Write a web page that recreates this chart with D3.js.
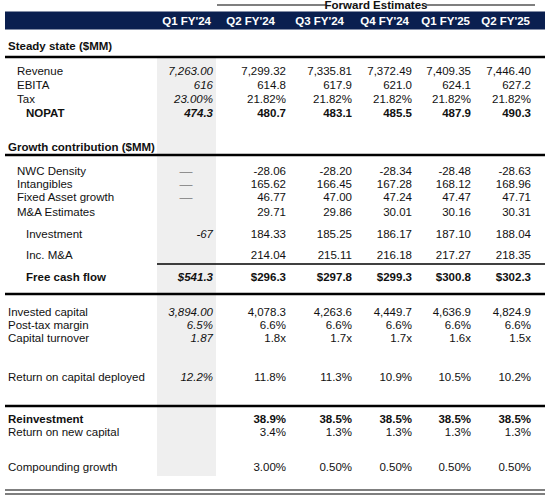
<!DOCTYPE html>
<html><head><meta charset="utf-8">
<script src="https://cdn.jsdelivr.net/npm/d3@7"></script>
<style>body{margin:0;background:#fff}svg{display:block;font-family:"Liberation Sans",Arial,sans-serif}</style>
</head><body><svg id="c" width="547" height="495"></svg>
<script>
// ---- data ----
const periods = ["Q1 FY'24","Q2 FY'24","Q3 FY'24","Q4 FY'24","Q1 FY'25","Q2 FY'25"];
const revenue = [7263.00, 7299.32, 7335.81, 7372.49, 7409.35, 7446.40];
const ebita = [616, 614.8, 617.9, 621.0, 624.1, 627.2];
const tax = [23.00, 21.82, 21.82, 21.82, 21.82, 21.82];
const nopat = [474.3, 480.7, 483.1, 485.5, 487.9, 490.3];
const nwcDensity = ["—", -28.06, -28.20, -28.34, -28.48, -28.63];
const intangibles = ["—", 165.62, 166.45, 167.28, 168.12, 168.96];
const fixedAsset = ["—", 46.77, 47.00, 47.24, 47.47, 47.71];
const maEstimates = [null, 29.71, 29.86, 30.01, 30.16, 30.31];
const investment = [-67, 184.33, 185.25, 186.17, 187.10, 188.04];
const incMA = [null, 214.04, 215.11, 216.18, 217.27, 218.35];
const fcf = [541.3, 296.3, 297.8, 299.3, 300.8, 302.3];
const investedCapital = [3894.00, 4078.3, 4263.6, 4449.7, 4636.9, 4824.9];
const postTaxMargin = [6.5, 6.6, 6.6, 6.6, 6.6, 6.6];
const capitalTurnover = [1.87, 1.8, 1.7, 1.7, 1.6, 1.5];
const rocd = [12.2, 11.8, 11.3, 10.9, 10.5, 10.2];
const reinvestment = [null, 38.9, 38.5, 38.5, 38.5, 38.5];
const returnNewCapital = [null, 3.4, 1.3, 1.3, 1.3, 1.3];
const compounding = [null, 3.00, 0.50, 0.50, 0.50, 0.50];

const loc = d3.formatLocale({decimal:".", thousands:",", grouping:[3], currency:["$",""], minus:"-"});
const f2 = loc.format(",.2f"), f1 = loc.format(",.1f"), f0 = loc.format("d");
const pct1 = v => loc.format(".1f")(v) + "%", pct2 = v => loc.format(".2f")(v) + "%";
const usd1 = v => "$" + loc.format(".1f")(v);
const x1 = v => loc.format(".1f")(v) + "x";

const rows = [
  {label:"Revenue", vals:revenue, fmt:f2, fmt0:f2, ind:1, y:71},
  {label:"EBITA", vals:ebita, fmt:f1, fmt0:f0, ind:1, y:85},
  {label:"Tax", vals:tax, fmt:pct2, fmt0:pct2, ind:1, y:99},
  {label:"NOPAT", vals:nopat, fmt:f1, fmt0:f1, ind:2, bold:true, y:113},
  {label:"NWC Density", vals:nwcDensity, fmt:f2, fmt0:f2, ind:1, y:171},
  {label:"Intangibles", vals:intangibles, fmt:f2, fmt0:f2, ind:1, y:184},
  {label:"Fixed Asset growth", vals:fixedAsset, fmt:f2, fmt0:f2, ind:1, y:197},
  {label:"M&A Estimates", vals:maEstimates, fmt:f2, fmt0:f2, ind:1, y:211.5},
  {label:"Investment", vals:investment, fmt:f2, fmt0:f0, ind:2, y:234},
  {label:"Inc. M&A", vals:incMA, fmt:f2, fmt0:f2, ind:2, y:255},
  {label:"Free cash flow", vals:fcf, fmt:usd1, fmt0:usd1, ind:2, bold:true, y:277},
  {label:"Invested capital", vals:investedCapital, fmt:f1, fmt0:f2, ind:0, y:311.5},
  {label:"Post-tax margin", vals:postTaxMargin, fmt:pct1, fmt0:pct1, ind:0, y:324.5},
  {label:"Capital turnover", vals:capitalTurnover, fmt:x1, fmt0:v=>loc.format(".2f")(v), ind:0, y:337.5},
  {label:"Return on capital deployed", vals:rocd, fmt:pct1, fmt0:pct1, ind:0, y:377},
  {label:"Reinvestment", vals:reinvestment, fmt:pct1, fmt0:pct1, ind:0, bold:true, y:419},
  {label:"Return on new capital", vals:returnNewCapital, fmt:pct1, fmt0:pct1, ind:0, y:432},
  {label:"Compounding growth", vals:compounding, fmt:pct2, fmt0:pct2, ind:0, y:467}
];
const sections = [{label:"Steady state ($MM)", y:46}, {label:"Growth contribution ($MM)", y:147}];

// ---- layout ----
const FS = 11.5;
const svg = d3.select("#c");
const ink = "#111";
const valX = d3.scaleOrdinal().domain(periods).range([213, 286, 352, 412, 471, 531]);
const headX = d3.scaleOrdinal().domain(periods).range([211, 275, 344, 409, 470, 530]);
const indentX = d3.scaleOrdinal().domain([0,1,2]).range([8, 17, 26]);

svg.append("rect").attr("x",157).attr("y",58).attr("width",59).attr("height",418).attr("fill","#efefef");

svg.append("line").attr("x1",217).attr("x2",326).attr("y1",5).attr("y2",5).attr("stroke","#555").attr("stroke-width",1.5);
svg.append("line").attr("x1",426).attr("x2",535).attr("y1",5).attr("y2",5).attr("stroke","#555").attr("stroke-width",1.5);
svg.append("text").attr("x",376).attr("y",8.5).attr("text-anchor","middle").attr("font-size",FS).attr("font-weight","bold").attr("fill",ink).text("Forward Estimates");

svg.append("rect").attr("x",5).attr("y",11.5).attr("width",540).attr("height",18).attr("fill","#0a1f4f");
svg.selectAll("text.head").data(periods).join("text").attr("class","head")
  .attr("x",d=>headX(d)).attr("y",24.5).attr("text-anchor","end").attr("font-size",FS).attr("font-weight","bold").attr("fill","#fff").text(d=>d);

svg.selectAll("text.sec").data(sections).join("text").attr("class","sec")
  .attr("x",8).attr("y",d=>d.y+4).attr("font-size",FS).attr("font-weight","bold").attr("fill",ink).text(d=>d.label);

[57,155,294,406].forEach(y=>svg.append("line").attr("x1",5).attr("x2",545).attr("y1",y).attr("y2",y).attr("stroke","#000").attr("stroke-width",2.5));
svg.append("line").attr("x1",157).attr("x2",545).attr("y1",264).attr("y2",264).attr("stroke","#000").attr("stroke-width",1.5);
[490,494].forEach(y=>svg.append("line").attr("x1",5).attr("x2",545).attr("y1",y).attr("y2",y).attr("stroke","#000").attr("stroke-width",1.2));

svg.selectAll("text.lab").data(rows).join("text").attr("class","lab")
  .attr("x",d=>indentX(d.ind)).attr("y",d=>d.y+4).attr("font-size",FS)
  .attr("font-weight",d=>d.bold?"bold":"normal").attr("fill",ink).text(d=>d.label);

rows.forEach(r=>{
  const cells = r.vals.map((v,i)=>({v,i,p:periods[i]})).filter(c=>c.v!==null);
  const t = svg.selectAll(null).data(cells).join("text")
    .attr("x",c=>c.v==="—" ? 179.5 : valX(c.p))
    .attr("y",r.y+4)
    .attr("text-anchor",c=>c.v==="—"?"start":"end")
    .attr("font-size",FS)
    .attr("font-weight",r.bold?"bold":"normal")
    .attr("font-style",c=>c.i===0?"italic":"normal")
    .attr("fill",c=>c.v==="—"?"#7a7a7a":ink)
    .text(c=>c.v==="—" ? "—" : (c.i===0 ? r.fmt0(c.v) : r.fmt(c.v)));
  t.filter(c=>c.v==="—").attr("textLength",13).attr("lengthAdjust","spacingAndGlyphs");
});
</script></body></html>
